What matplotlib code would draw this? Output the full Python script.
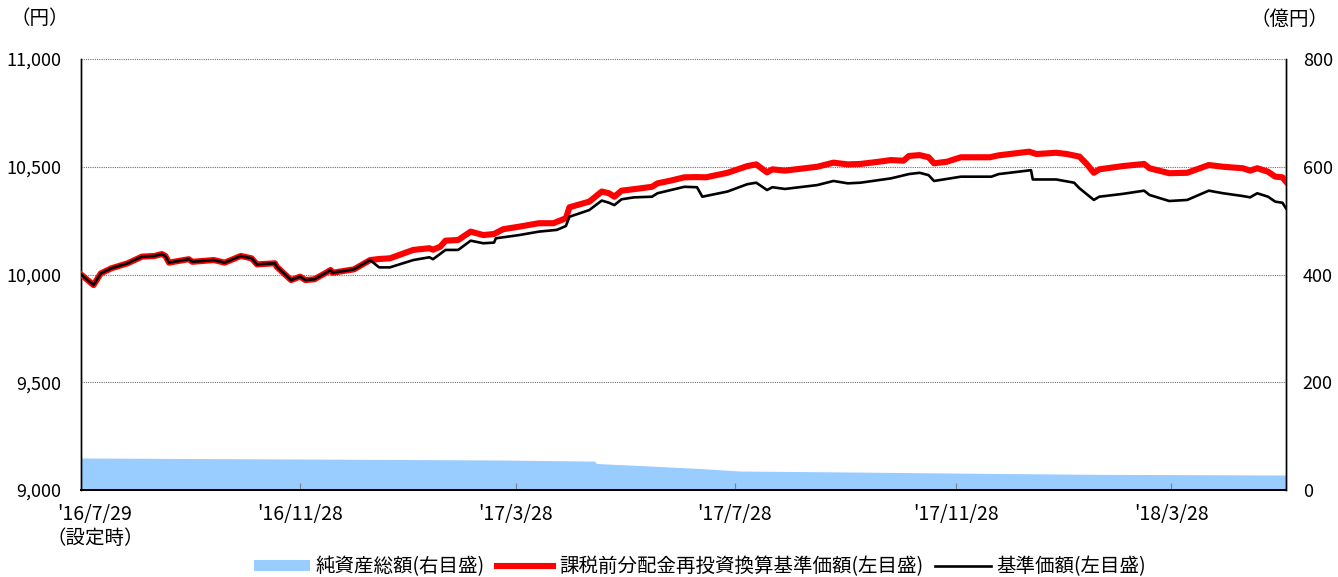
import numpy as np
import pandas as pd
import matplotlib
matplotlib.use('Agg')
import matplotlib.pyplot as plt
import matplotlib.transforms as mtransforms

plt.rcParams['font.family'] = ['Noto Sans CJK JP', 'DejaVu Sans']

# 基準価額(左目盛)
nav_dates = ['2016-07-29', '2016-08-05', '2016-08-09', '2016-08-15', '2016-08-24', '2016-09-01',
             '2016-09-08', '2016-09-12', '2016-09-14', '2016-09-16', '2016-09-27', '2016-09-29',
             '2016-10-11', '2016-10-17', '2016-10-26', '2016-11-01', '2016-11-04', '2016-11-14',
             '2016-11-15', '2016-11-23', '2016-11-28', '2016-12-01', '2016-12-06', '2016-12-12',
             '2016-12-15', '2016-12-16', '2016-12-28', '2017-01-06', '2017-01-11', '2017-01-17',
             '2017-01-30', '2017-02-08', '2017-02-10', '2017-02-17', '2017-02-24', '2017-03-03',
             '2017-03-10', '2017-03-16', '2017-03-17', '2017-03-30', '2017-04-10', '2017-04-20',
             '2017-04-25', '2017-04-27', '2017-05-08', '2017-05-15', '2017-05-19', '2017-05-22',
             '2017-05-26', '2017-06-02', '2017-06-12', '2017-06-15', '2017-06-30', '2017-07-07',
             '2017-07-10', '2017-07-24', '2017-08-04', '2017-08-09', '2017-08-15', '2017-08-18',
             '2017-08-25', '2017-09-12', '2017-09-21', '2017-09-29', '2017-10-06', '2017-10-23',
             '2017-11-02', '2017-11-08', '2017-11-13', '2017-11-16', '2017-12-01', '2017-12-18',
             '2017-12-22', '2017-12-28', '2018-01-09', '2018-01-10', '2018-01-23', '2018-02-02',
             '2018-02-05', '2018-02-13', '2018-02-16', '2018-03-01', '2018-03-13', '2018-03-16',
             '2018-03-27', '2018-04-06', '2018-04-18', '2018-04-26', '2018-05-07', '2018-05-11',
             '2018-05-15', '2018-05-21', '2018-05-25', '2018-05-29', '2018-05-31']
nav = [10000, 9951, 10005, 10029, 10052, 10083,
       10086, 10095, 10086, 10055, 10071, 10059,
       10067, 10055, 10086, 10075, 10047, 10052,
       10036, 9974, 9990, 9974, 9978, 10006,
       10021, 10008, 10024, 10067, 10033, 10033,
       10067, 10080, 10071, 10114, 10114, 10157,
       10145, 10148, 10168, 10183, 10199, 10207,
       10225, 10268, 10299, 10343, 10333, 10322,
       10349, 10358, 10361, 10377, 10407, 10405,
       10361, 10385, 10419, 10426, 10392, 10405,
       10397, 10415, 10434, 10423, 10426, 10446,
       10466, 10472, 10461, 10434, 10454, 10454,
       10466, 10472, 10484, 10441, 10441, 10426,
       10400, 10346, 10361, 10374, 10389, 10369,
       10341, 10346, 10389, 10377, 10364, 10358,
       10377, 10361, 10338, 10333, 10307]

# 課税前分配金再投資換算基準価額(左目盛)
reinv_dates = nav_dates[:28] + [
    '2017-01-11', '2017-01-17', '2017-01-30', '2017-02-08', '2017-02-10', '2017-02-14',
    '2017-02-17', '2017-02-24', '2017-03-03', '2017-03-10', '2017-03-16', '2017-03-21',
    '2017-03-30', '2017-04-10', '2017-04-18', '2017-04-25', '2017-04-27', '2017-05-08',
    '2017-05-15', '2017-05-19', '2017-05-22', '2017-05-26', '2017-06-01', '2017-06-12',
    '2017-06-15', '2017-06-22', '2017-06-30', '2017-07-07', '2017-07-12', '2017-07-24',
    '2017-08-04', '2017-08-09', '2017-08-15', '2017-08-18', '2017-08-25', '2017-09-12',
    '2017-09-21', '2017-09-29', '2017-10-06', '2017-10-16', '2017-10-23', '2017-10-30',
    '2017-11-02', '2017-11-08', '2017-11-13', '2017-11-16', '2017-11-23', '2017-12-01',
    '2017-12-11', '2017-12-17', '2017-12-22', '2017-12-28', '2018-01-08', '2018-01-12',
    '2018-01-23', '2018-01-29', '2018-02-05', '2018-02-09', '2018-02-13', '2018-02-16',
    '2018-03-01', '2018-03-13', '2018-03-16', '2018-03-27', '2018-04-06', '2018-04-18',
    '2018-04-26', '2018-05-07', '2018-05-11', '2018-05-15', '2018-05-21', '2018-05-25',
    '2018-05-29', '2018-05-31']
reinv = nav[:28] + [
    10072, 10075, 10114, 10122, 10115, 10129,
    10157, 10160, 10199, 10183, 10188, 10210,
    10222, 10238, 10238, 10261, 10312, 10338,
    10385, 10377, 10361, 10389, 10395, 10407,
    10423, 10435, 10451, 10452, 10451, 10472,
    10503, 10511, 10474, 10488, 10482, 10500,
    10519, 10511, 10513, 10523, 10531, 10528,
    10550, 10554, 10544, 10516, 10523, 10544,
    10544, 10544, 10553, 10559, 10570, 10559,
    10565, 10559, 10547, 10513, 10472, 10488,
    10503, 10513, 10493, 10470, 10472, 10508,
    10500, 10493, 10482, 10493, 10477, 10454,
    10451, 10431]

# 純資産総額(右目盛, 億円)
aum_dates = ['2016-07-29', '2016-11-28', '2017-03-19', '2017-05-11', '2017-05-12', '2017-06-11',
             '2017-07-08', '2017-07-31', '2017-09-02', '2017-10-28', '2017-12-23', '2018-02-14',
             '2018-05-31']
aum = [59.4, 57.5, 55.7, 53.6, 49.2, 44.5, 40.0, 35.2, 34.3, 32.5, 30.6, 29.1, 27.8]

tick_dates = ['2016-07-29', '2016-11-28', '2017-03-28', '2017-07-28', '2017-11-28', '2018-03-28']
tick_labels = ["'16/7/29\n（設定時）", "'16/11/28", "'17/3/28", "'17/7/28", "'17/11/28", "'18/3/28"]

nav_x = pd.to_datetime(nav_dates)
reinv_x = pd.to_datetime(reinv_dates)
aum_x = pd.to_datetime(aum_dates)

fig = plt.figure(figsize=(13.38, 5.77), dpi=100)
ax = fig.add_axes([81 / 1338, 87 / 577, 1205 / 1338, 431 / 577])
ax2 = ax.twinx()

ax2.fill_between(aum_x, 0, aum, color='#99CCFF', linewidth=0, label='純資産総額(右目盛)')
ax2.set_ylim(0, 800)
ax2.set_yticks([0, 200, 400, 600, 800])
ax2.set_yticklabels(['0', '200', '400', '600', '800'])

ax.set_zorder(ax2.get_zorder() + 1)
ax.patch.set_visible(False)

ax.plot(reinv_x, reinv, color='#FF0000', linewidth=4.4, solid_joinstyle='round',
        label='課税前分配金再投資換算基準価額(左目盛)', zorder=3)
ax.plot(nav_x, nav, color='black', linewidth=1.9, label='基準価額(左目盛)', zorder=4)

ax.set_ylim(9000, 11000)
ax.set_yticks([9000, 9500, 10000, 10500, 11000])
ax.set_yticklabels(['9,000', '9,500', '10,000', '10,500', '11,000'])
ax.set_xlim(pd.Timestamp('2016-07-29'), pd.Timestamp('2018-05-31'))
ax.set_xticks(pd.to_datetime(tick_dates))
ax.set_xticklabels(tick_labels)

ax.grid(axis='y', color='#707070', linestyle=(0, (1, 1)), linewidth=0.8)
ax.grid(axis='x', visible=False)

for a in (ax, ax2):
    a.spines['top'].set_visible(False)
    a.spines['left'].set_linewidth(1.0)
    a.spines['right'].set_linewidth(1.0)
    a.spines['bottom'].set_linewidth(1.4)

ax.tick_params(axis='y', length=0, pad=14, labelsize=13)
ax2.tick_params(axis='y', length=0, pad=12, labelsize=13)
ax.tick_params(axis='x', direction='in', length=5, color='#808080', pad=10, labelsize=14)

first = ax.get_xticklabels()[0]
first.set_transform(first.get_transform() +
                    mtransforms.ScaledTranslation(0.14, 0, fig.dpi_scale_trans))

fig.text(40 / 1338, 1 - 19 / 577, '（円）', ha='center', va='center', fontsize=14)
fig.text(1290 / 1338, 1 - 19 / 577, '（億円）', ha='center', va='center', fontsize=14)

h1, l1 = ax2.get_legend_handles_labels()
h2, l2 = ax.get_legend_handles_labels()
fig.legend(h1 + h2, l1 + l2, loc='center', bbox_to_anchor=(700 / 1338, 10 / 577),
           ncol=3, frameon=False, fontsize=14, handlelength=2.9, handleheight=0.5,
           handletextpad=0.3, columnspacing=0.6, borderaxespad=0)

fig.savefig('out.png', dpi=100)
